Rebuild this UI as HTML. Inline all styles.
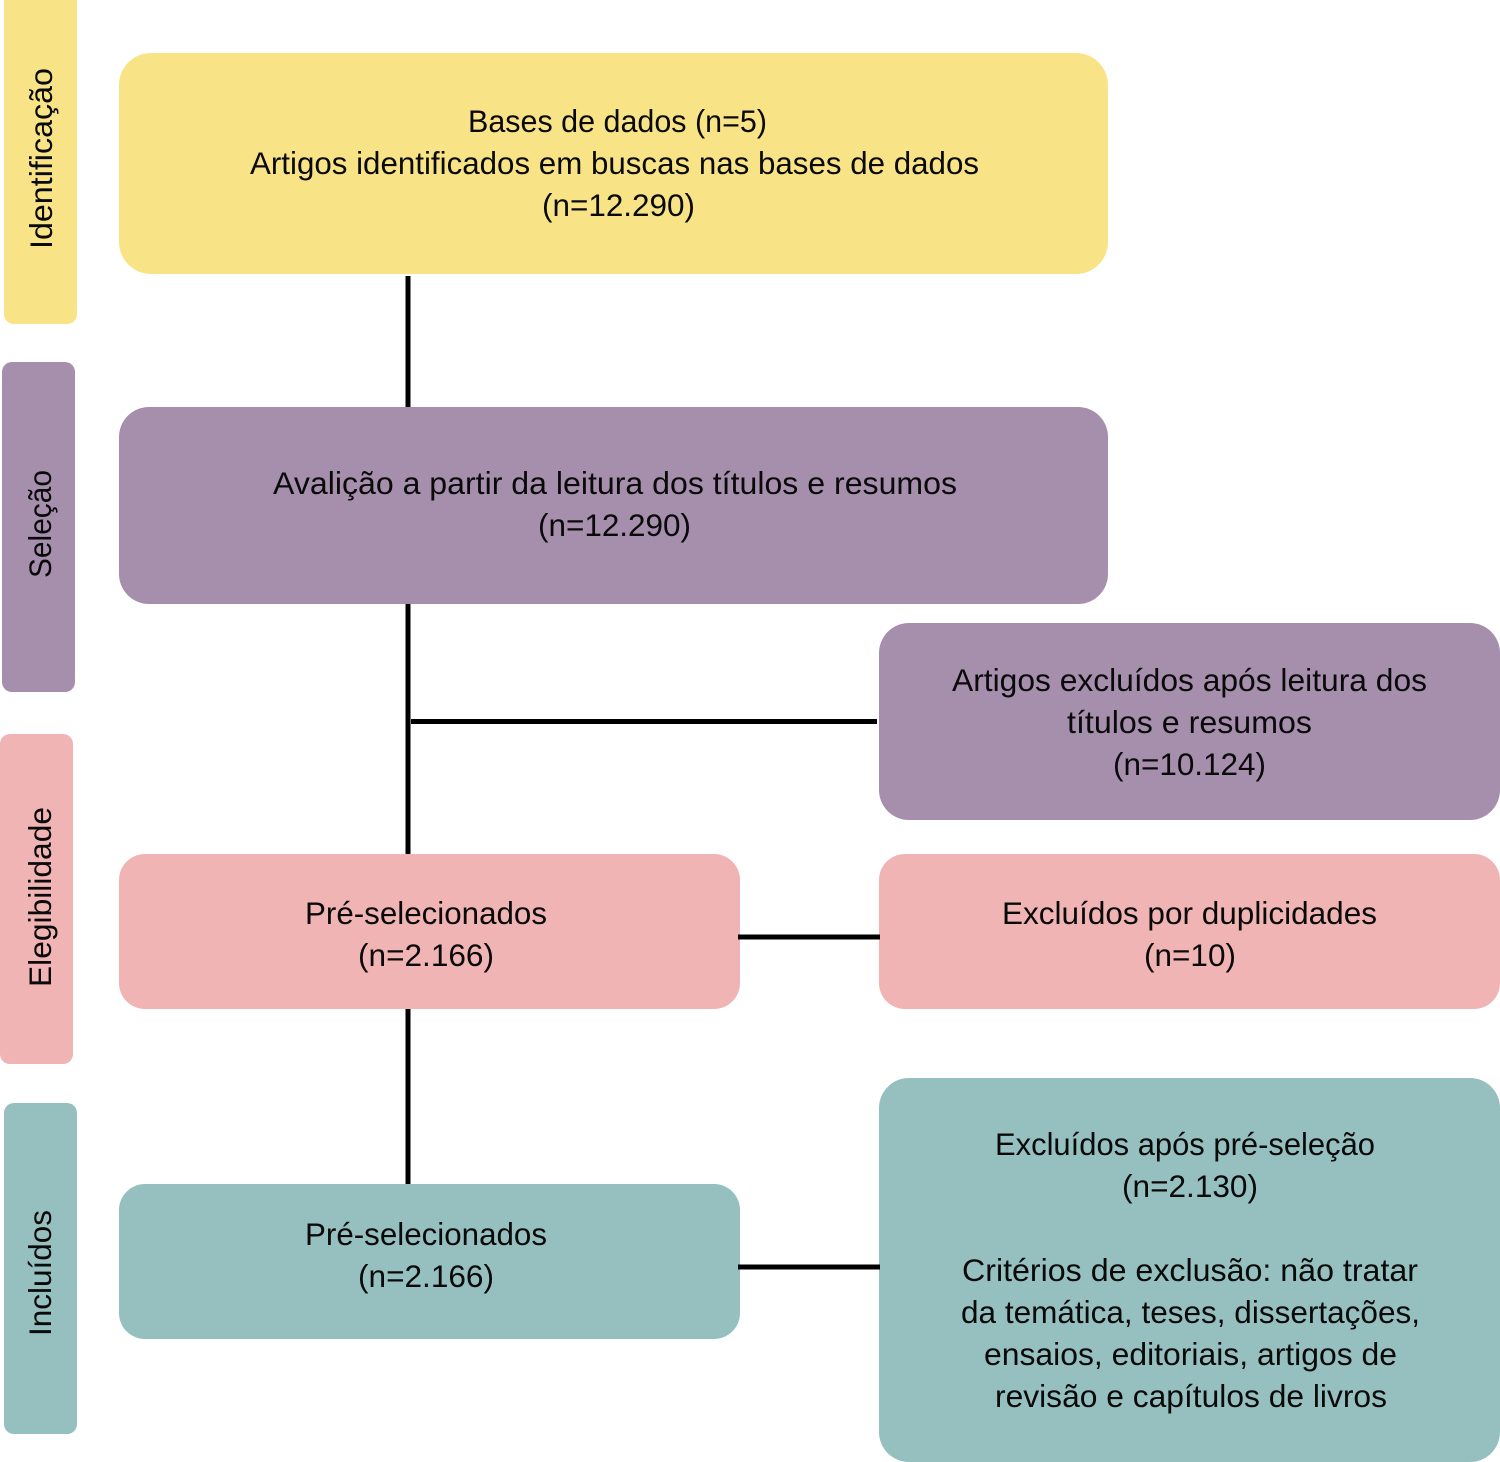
<!DOCTYPE html>
<html lang="pt">
<head>
<meta charset="utf-8">
<title>Fluxograma</title>
<style>
html,body{margin:0;padding:0;background:#fff;width:1500px;height:1462px;overflow:hidden}
svg{display:block}
text{font-family:"Liberation Sans",sans-serif;font-size:31.5px;fill:#0a0a0a}
</style>
</head>
<body>
<svg xmlns="http://www.w3.org/2000/svg" width="1500" height="1462" viewBox="0 0 1500 1462">
<rect x="4" y="-12" width="73" height="336" rx="10" fill="#F8E486"/>
<rect x="2" y="362" width="73" height="330" rx="10" fill="#A68FAD"/>
<rect x="0" y="734" width="73" height="330" rx="10" fill="#EFB4B3"/>
<rect x="4" y="1103" width="73" height="331" rx="10" fill="#96BFC0"/>
<g stroke="#000" stroke-width="5" fill="none">
<line x1="408" y1="276" x2="408" y2="408"/>
<line x1="408" y1="604" x2="408" y2="855"/>
<line x1="411" y1="721.5" x2="877" y2="721.5"/>
<line x1="408" y1="1009" x2="408" y2="1185"/>
</g>
<rect x="119" y="53" width="989" height="221" rx="32" fill="#F8E486"/>
<rect x="119" y="407" width="989" height="197" rx="30" fill="#A68FAD"/>
<rect x="879" y="623" width="621" height="197" rx="30" fill="#A68FAD"/>
<rect x="119" y="854" width="621" height="155" rx="26" fill="#EFB4B3"/>
<rect x="879" y="854" width="621" height="155" rx="26" fill="#EFB4B3"/>
<rect x="119" y="1184" width="621" height="155" rx="26" fill="#96BFC0"/>
<rect x="879" y="1078" width="621" height="384" rx="30" fill="#96BFC0"/>
<g stroke="#000" stroke-width="5" fill="none">
<line x1="738" y1="937" x2="880" y2="937"/>
<line x1="738" y1="1267" x2="880" y2="1267"/>
</g>

<text transform="translate(52,249) rotate(-90)" textLength="181" lengthAdjust="spacingAndGlyphs">Identificação</text>
<text transform="translate(51,578) rotate(-90)" textLength="108" lengthAdjust="spacingAndGlyphs">Seleção</text>
<text transform="translate(51,987) rotate(-90)" textLength="180" lengthAdjust="spacingAndGlyphs">Elegibilidade</text>
<text transform="translate(51,1336) rotate(-90)" textLength="126" lengthAdjust="spacingAndGlyphs">Incluídos</text>

<text x="468" y="132" textLength="299" lengthAdjust="spacingAndGlyphs">Bases de dados (n=5)</text>
<text x="250" y="174" textLength="729" lengthAdjust="spacingAndGlyphs">Artigos identificados em buscas nas bases de dados</text>
<text x="542" y="216" textLength="153" lengthAdjust="spacingAndGlyphs">(n=12.290)</text>

<text x="273" y="494" textLength="684" lengthAdjust="spacingAndGlyphs">Avalição a partir da leitura dos títulos e resumos</text>
<text x="538" y="536" textLength="153" lengthAdjust="spacingAndGlyphs">(n=12.290)</text>

<text x="952" y="691" textLength="475" lengthAdjust="spacingAndGlyphs">Artigos excluídos após leitura dos</text>
<text x="1067" y="733" textLength="245" lengthAdjust="spacingAndGlyphs">títulos e resumos</text>
<text x="1113" y="775" textLength="153" lengthAdjust="spacingAndGlyphs">(n=10.124)</text>

<text x="305" y="924" textLength="242" lengthAdjust="spacingAndGlyphs">Pré-selecionados</text>
<text x="358" y="966" textLength="136" lengthAdjust="spacingAndGlyphs">(n=2.166)</text>

<text x="1002" y="924" textLength="375" lengthAdjust="spacingAndGlyphs">Excluídos por duplicidades</text>
<text x="1144" y="966" textLength="92" lengthAdjust="spacingAndGlyphs">(n=10)</text>

<text x="305" y="1245" textLength="242" lengthAdjust="spacingAndGlyphs">Pré-selecionados</text>
<text x="358" y="1287" textLength="136" lengthAdjust="spacingAndGlyphs">(n=2.166)</text>

<text x="995" y="1155" textLength="380" lengthAdjust="spacingAndGlyphs">Excluídos após pré-seleção</text>
<text x="1122" y="1197" textLength="136" lengthAdjust="spacingAndGlyphs">(n=2.130)</text>
<text x="962" y="1281" textLength="456" lengthAdjust="spacingAndGlyphs">Critérios de exclusão: não tratar</text>
<text x="961" y="1323" textLength="459" lengthAdjust="spacingAndGlyphs">da temática, teses, dissertações,</text>
<text x="984" y="1365" textLength="413" lengthAdjust="spacingAndGlyphs">ensaios, editoriais, artigos de</text>
<text x="995" y="1407" textLength="392" lengthAdjust="spacingAndGlyphs">revisão e capítulos de livros</text>
</svg>
</body>
</html>
